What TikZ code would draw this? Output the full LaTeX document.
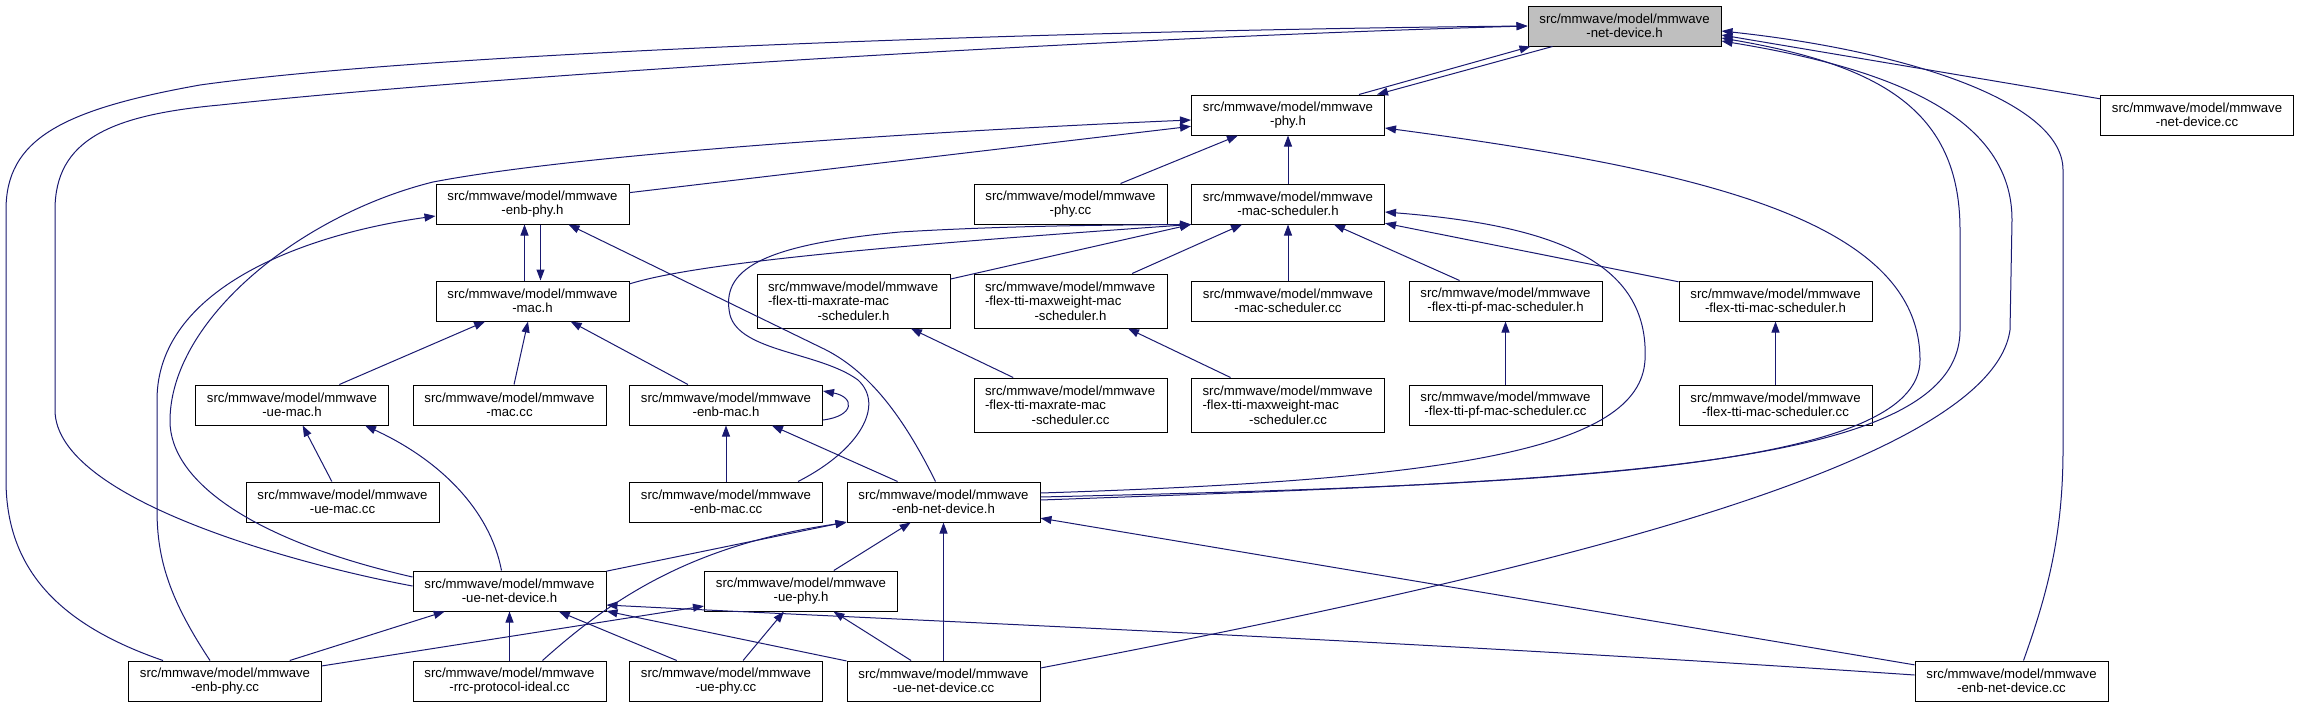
\documentclass[tikz,border=0pt]{standalone}
\usepackage{fontspec}
\setmainfont{Liberation Sans}
\usepackage{tikz}
\usetikzlibrary{arrows.meta}
\definecolor{edgeblue}{RGB}{25,25,112}
\definecolor{rootgray}{RGB}{191,191,191}
\newcommand{\mmwpath}{src/mmwave/model/mmwave}

\begin{document}
\begin{tikzpicture}[x=1pt, y=-1pt,
  file/.style={draw=black, fill=white, line width=1pt, minimum width=193pt,
    minimum height=40pt, inner sep=0pt, align=center,
    font=\fontsize{13.2}{14.5}\selectfont},
  file3/.style={file, minimum height=54pt, align=left},
  root/.style={file, fill=rootgray},
  inc/.style={-{Triangle[length=11pt,width=8pt]}, edgeblue, line width=1pt}]
\useasboundingbox (0,0) rectangle (2298,707);
\node[root] (netdevh) at (1624.5,26) {\mmwpath\\-net-device.h};
\node[file] (phyh) at (1288,115) {\mmwpath\\-phy.h};
\node[file] (netdevcc) at (2197,115) {\mmwpath\\-net-device.cc};
\node[file] (enbphyh) at (532.5,204) {\mmwpath\\-enb-phy.h};
\node[file] (phycc) at (1070.5,204) {\mmwpath\\-phy.cc};
\node[file] (macschedh) at (1288,204) {\mmwpath\\-mac-scheduler.h};
\node[file] (mach) at (532.5,301) {\mmwpath\\-mac.h};
\node[file3] (maxrateh) at (853.5,301) {\mmwpath\\-flex-tti-maxrate-mac\\\makebox[171pt]{-scheduler.h}};
\node[file3] (maxweighth) at (1070.5,301) {\mmwpath\\-flex-tti-maxweight-mac\\\makebox[171pt]{-scheduler.h}};
\node[file] (macschedcc) at (1288,301) {\mmwpath\\-mac-scheduler.cc};
\node[file] (pfh) at (1505.5,301) {\mmwpath\\-flex-tti-pf-mac-scheduler.h};
\node[file] (flexh) at (1775.5,301) {\mmwpath\\-flex-tti-mac-scheduler.h};
\node[file] (uemach) at (292,405) {\mmwpath\\-ue-mac.h};
\node[file] (maccc) at (509.5,405) {\mmwpath\\-mac.cc};
\node[file] (enbmach) at (726,405) {\mmwpath\\-enb-mac.h};
\node[file3] (maxratecc) at (1070.5,405) {\mmwpath\\-flex-tti-maxrate-mac\\\makebox[171pt]{-scheduler.cc}};
\node[file3] (maxweightcc) at (1288,405) {\mmwpath\\-flex-tti-maxweight-mac\\\makebox[171pt]{-scheduler.cc}};
\node[file] (pfcc) at (1505.5,405) {\mmwpath\\-flex-tti-pf-mac-scheduler.cc};
\node[file] (flexcc) at (1775.5,405) {\mmwpath\\-flex-tti-mac-scheduler.cc};
\node[file] (uemaccc) at (342.5,502) {\mmwpath\\-ue-mac.cc};
\node[file] (enbmaccc) at (726,502) {\mmwpath\\-enb-mac.cc};
\node[file] (enbnetdevh) at (943.5,502) {\mmwpath\\-enb-net-device.h};
\node[file] (uenetdevh) at (509.5,591) {\mmwpath\\-ue-net-device.h};
\node[file] (uephyh) at (801,591) {\mmwpath\\-ue-phy.h};
\node[file] (enbphycc) at (225,681) {\mmwpath\\-enb-phy.cc};
\node[file] (rrccc) at (509.5,681) {\mmwpath\\-rrc-protocol-ideal.cc};
\node[file] (uephycc) at (726,681) {\mmwpath\\-ue-phy.cc};
\node[file] (uenetdevcc) at (943.5,681) {\mmwpath\\-ue-net-device.cc};
\node[file] (enbnetdevcc) at (2011.5,681) {\mmwpath\\-enb-net-device.cc};

\draw[inc] ([xshift=71pt]phyh.north) -- ([xshift=-94pt]netdevh.south);
\draw[inc] ([xshift=-72pt]netdevh.south) -- ([xshift=89pt]phyh.north);
\draw[inc] (netdevcc) -- ([yshift=-9pt]netdevh.east);
\draw[inc] ([xshift=12pt]enbnetdevcc.north) .. controls (2045,600) and (2063,540) .. (2063,450)
  -- (2063,170) .. controls (2063,100) and (1900,50) .. ([yshift=-5pt]netdevh.east);
\draw[inc] ([yshift=2pt]enbnetdevh.east) .. controls (1600,480) and (1960,470) .. (1960,330)
  -- (1960,230) .. controls (1960,110) and (1880,65) .. ([yshift=-12pt]netdevh.east);
\draw[inc] ([yshift=13pt]uenetdevcc.east) .. controls (1500,580) and (1990,470) .. (2010,330)
  -- (2012,220) .. controls (2012,120) and (1900,70) .. ([yshift=-15pt]netdevh.east);
\draw[inc] ([xshift=-62pt]enbphycc.north) .. controls (60,625) and (6,570) .. (6,480)
  -- (6,210) .. controls (6,140) and (60,110) .. (200,85)
  .. controls (450,50) and (1100,30) .. (netdevh.west);
\draw[inc] ([yshift=5pt]uenetdevh.west) .. controls (300,565) and (55,500) .. (55,410)
  -- (55,210) .. controls (55,140) and (110,115) .. (220,105)
  .. controls (500,75) and (1100,38) .. (netdevh.west);

\draw[inc] (enbphyh) -- (phyh);
\draw[inc] ([yshift=14pt]uenetdevh.west) .. controls (250,540) and (170,480) .. (170,421)
  .. controls (170,320) and (300,215) .. (433,182)
  .. controls (600,150) and (1000,128) .. ([yshift=-5pt]phyh.west);
\draw[inc] (phycc) -- (phyh);
\draw[inc] (macschedh) -- (phyh);
\draw[inc] ([yshift=5pt]enbnetdevh.east) .. controls (1550,485) and (1920,470) .. (1920,360)
  .. controls (1920,220) and (1700,170) .. ([yshift=-13pt]phyh.east);
\draw[inc] ([yshift=9pt]enbnetdevh.east) .. controls (1450,480) and (1640,450) .. (1645,360)
  .. controls (1650,260) and (1550,225) .. ([yshift=-8pt]macschedh.east);

\draw[inc] ([xshift=-8pt]mach.north) -- ([xshift=-8pt]enbphyh.south);
\draw[inc] ([xshift=8pt]enbphyh.south) -- ([xshift=8pt]mach.north);
\draw[inc] ([xshift=-15pt]enbphycc.north) .. controls (170,600) and (157,560) .. (157,510)
  -- (157,400) .. controls (157,290) and (300,235) .. ([yshift=-12pt]enbphyh.west);
\draw[inc] ([xshift=-8pt]enbnetdevh.north) .. controls (905,420) and (870,370) .. (820,347)
  -- ([xshift=36pt]enbphyh.south);

\draw[inc] (mach.10) .. controls (700,262) and (900,245) .. (macschedh.south west);
\draw[inc] (maxrateh) -- (macschedh.south west);
\draw[inc] (maxweighth) -- (macschedh);
\draw[inc] (macschedcc) -- (macschedh);
\draw[inc] (pfh) -- (macschedh);
\draw[inc] (flexh) -- (macschedh);
\draw[inc] ([xshift=72pt]enbmaccc.north) .. controls (860,450) and (885,405) .. (858,380)
  .. controls (820,352) and (740,352) .. (730,315)
  .. controls (720,270) and (760,245) .. (900,232)
  .. controls (1000,226) and (1100,225) .. (macschedh.south west);

\draw[inc] (maxratecc) -- (maxrateh);
\draw[inc] (maxweightcc) -- (maxweighth);
\draw[inc] (pfcc) -- (pfh);
\draw[inc] (flexcc) -- (flexh);

\draw[inc] (uemach) -- (mach);
\draw[inc] (maccc) -- (mach);
\draw[inc] (enbmach) -- (mach);
\draw[inc] ([yshift=-15pt]enbmach.east) .. controls +(32,-4) and +(32,6) .. ([yshift=14pt]enbmach.east);
\draw[inc] (enbmaccc) -- (enbmach);
\draw[inc] (enbnetdevh) -- (enbmach);
\draw[inc] (uemaccc) -- (uemach);
\draw[inc] ([xshift=-8pt]uenetdevh.north) .. controls (490,510) and (440,460) .. ([xshift=73pt]uemach.south);

\draw[inc] (uenetdevh) -- (enbnetdevh);
\draw[inc] ([xshift=33pt]rrccc.north) .. controls (610,600) and (690,545) .. (enbnetdevh.south west);
\draw[inc] (uephyh) -- (enbnetdevh);
\draw[inc] (uenetdevcc) -- (enbnetdevh);
\draw[inc] (enbnetdevcc) -- (enbnetdevh);

\draw[inc] (enbphycc) -- (uenetdevh);
\draw[inc] (rrccc) -- (uenetdevh);
\draw[inc] (uephycc) -- (uenetdevh);
\draw[inc] (uenetdevcc) -- (uenetdevh);
\draw[inc] ([yshift=6pt]enbnetdevcc.west) .. controls (1400,640) and (900,620) .. ([yshift=-14pt]uenetdevh.east);

\draw[inc] (enbphycc) -- (uephyh);
\draw[inc] (uephycc) -- (uephyh);
\draw[inc] (uenetdevcc) -- (uephyh);
\end{tikzpicture}
\end{document}
